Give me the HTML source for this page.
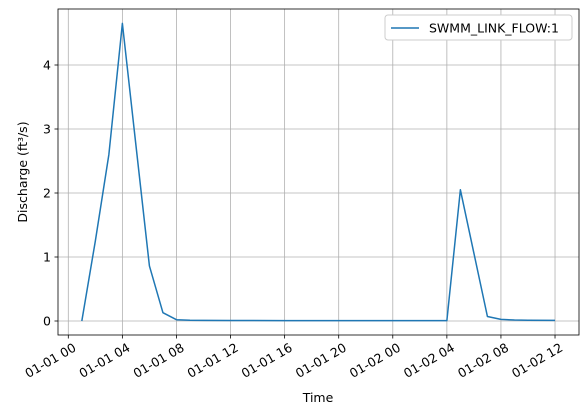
<!DOCTYPE html>
<html><head><meta charset="utf-8"><style>
body{margin:0;background:#fff;font-family:"Liberation Sans","DejaVu Sans",sans-serif;}
svg text{font-family:"DejaVu Sans","Liberation Sans",sans-serif;font-size:12.5px;fill:#000;}
</style></head><body>
<svg width="588" height="414">
<g id="grid"></g>
<g id="axes"></g>
<polyline id="line" fill="none" stroke="#1f77b4" stroke-width="1.5" stroke-linejoin="round"/>
<rect x="58" y="9" width="521" height="326" fill="none" stroke="#000" stroke-width="0.8"/>
<text x="27" y="172" text-anchor="middle" transform="rotate(-90 27 172)">Discharge (ft³/s)</text>
<text x="318" y="402" text-anchor="middle">Time</text>
<g>
<rect x="385" y="15" width="187" height="25" rx="3" fill="#fff" stroke="#ccc"/>
<line x1="391" y1="28" x2="419" y2="28" stroke="#1f77b4" stroke-width="1.5"/>
<text x="429" y="32.5">SWMM_LINK_FLOW:1</text>
</g>
</svg>
<script>
const hours=[1,2,3,4,5,6,7,8,9,10,12,16,20,24,28,29,30,31,32,33,34,36];
const values=[0,1.25,2.6,4.65,2.75,0.86,0.13,0.02,0.012,0.01,0.008,0.006,0.006,0.005,0.005,2.05,1.06,0.07,0.025,0.015,0.012,0.01];
const xTicks=[0,4,8,12,16,20,24,28,32,36];
const xTickLabels=["01-01 00","01-01 04","01-01 08","01-01 12","01-01 16","01-01 20","01-02 00","01-02 04","01-02 08","01-02 12"];
const yTicks=[0,1,2,3,4];
const X=h=>68.3+h*13.52, Y=v=>321-v*64;
const ns="http://www.w3.org/2000/svg";
const grid=document.getElementById('grid'), axes=document.getElementById('axes');
function mk(tag,attrs,parent){const e=document.createElementNS(ns,tag);for(const k in attrs)e.setAttribute(k,attrs[k]);parent.appendChild(e);return e;}
xTicks.forEach((h,i)=>{const x=X(h);
 const g=mk('line',{x1:x,x2:x,y1:9,y2:335,stroke:'#b0b0b0','stroke-width':0.8},grid);
 
 
 const t=mk('line',{x1:x,x2:x,y1:335,y2:338.5,stroke:'#000','stroke-width':0.8},axes);
 
 
 const l=mk('text',{x:x+4,y:342,'text-anchor':'end',transform:`rotate(-30 ${x+4} 342)`,dy:'0.75em'},axes);
 l.textContent=xTickLabels[i];
 
 
});
yTicks.forEach(v=>{const y=Y(v);
 const g=mk('line',{x1:58,x2:579,y1:y,y2:y,stroke:'#b0b0b0','stroke-width':0.8},grid);
 
 
 const t=mk('line',{x1:54.5,x2:58,y1:y,y2:y,stroke:'#000','stroke-width':0.8},axes);
 
 
 const l=mk('text',{x:51,y:y+4.5,'text-anchor':'end'},axes);
 l.textContent=v;
 
 
});
document.getElementById('line').setAttribute('points',hours.map((h,i)=>X(h)+','+Y(values[i])).join(' '));
</script>
</body></html>
